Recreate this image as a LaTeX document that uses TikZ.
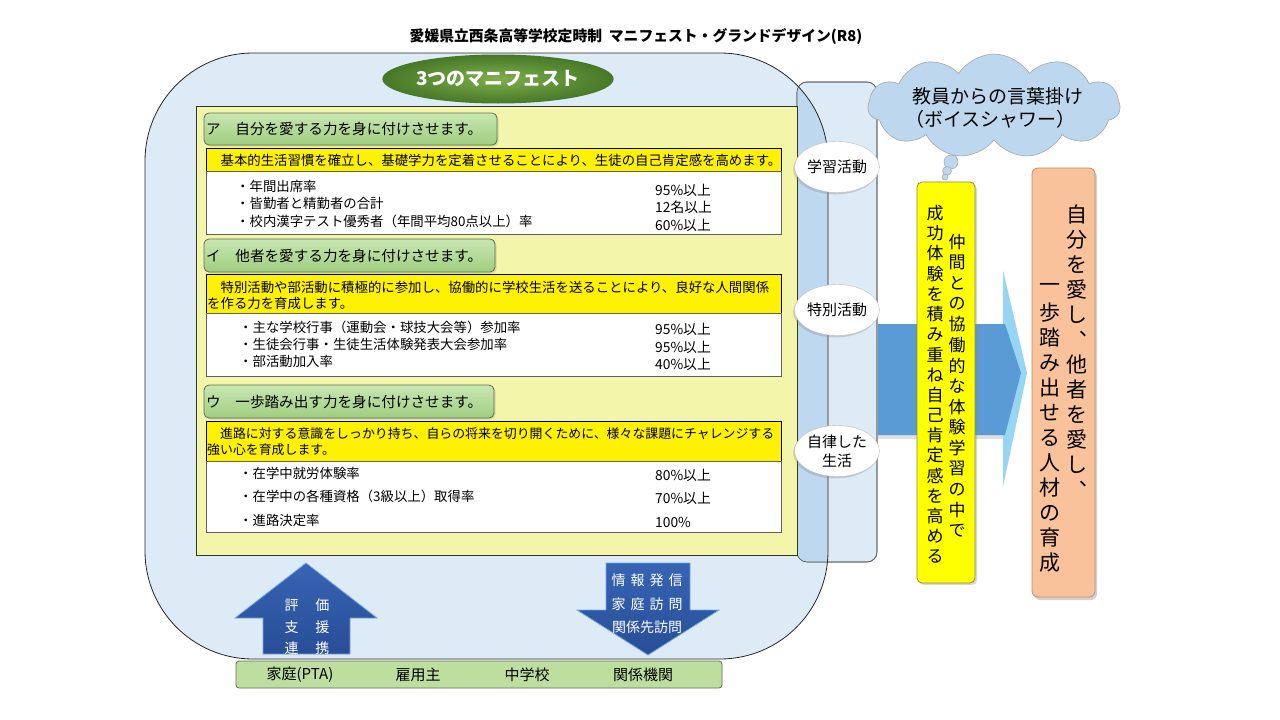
\documentclass[tikz,border=0pt]{standalone}
\usepackage{fontspec}
\setmainfont{Noto Sans CJK JP}
\usetikzlibrary{shapes.geometric,shapes.symbols,shadows}
\definecolor{bigblue}{RGB}{221,235,247}
\definecolor{overblue}{RGB}{190,216,240}
\definecolor{panelyellow}{RGB}{243,246,170}
\definecolor{hdrtop}{RGB}{200,230,178}
\definecolor{hdrbot}{RGB}{160,206,128}
\definecolor{hdrborder}{RGB}{95,110,85}
\definecolor{ovaltop}{RGB}{125,175,75}
\definecolor{ovalbot}{RGB}{70,120,40}
\definecolor{arrowblue}{RGB}{91,155,213}
\definecolor{arrowcyan}{RGB}{150,214,244}
\definecolor{darkarrow}{RGB}{40,78,150}
\definecolor{darkarrowtop}{RGB}{55,100,180}
\definecolor{arrowedge}{RGB}{120,165,225}
\definecolor{bargreen}{RGB}{190,222,160}
\definecolor{orangebox}{RGB}{249,194,154}
\definecolor{orangeedge}{RGB}{190,140,110}
\definecolor{cloudblue}{RGB}{189,215,238}
\definecolor{vyellow}{RGB}{255,255,0}
\begin{document}
\begin{tikzpicture}[x=1pt,y=-1pt,
  every node/.style={inner sep=0pt},
  hdr/.style={draw=hdrborder, line width=0.8pt, rounded corners=5pt, top color=hdrtop, bottom color=hdrbot,
     drop shadow={opacity=0.25, shadow xshift=1.5pt, shadow yshift=-1.5pt}},
  ybar/.style={draw=black, line width=0.8pt, fill=yellow},
  wbox/.style={draw=gray!75!black, line width=0.8pt, fill=white},
  hdrtxt/.style={anchor=west, font=\fontsize{14.6}{16}\selectfont},
  itm/.style={anchor=west, font=\fontsize{13.4}{15}\selectfont},
  val/.style={anchor=west, font=\fontsize{13.8}{15}\selectfont},
  lozenge/.style={ellipse, minimum width=77pt, minimum height=51pt, fill=white, draw=gray!50, line width=0.4pt,
     drop shadow={opacity=0.3, shadow xshift=-1.5pt, shadow yshift=-2pt}, align=center, font=\fontsize{15}{19}\selectfont},
  vt17/.style={font=\fontsize{17}{17}\selectfont},
  vt21/.style={font=\fontsize{21}{21}\selectfont},
  arrowtxt/.style={text=white, font=\fontsize{14}{16}\selectfont},
  bartxt/.style={font=\fontsize{15}{17}\selectfont}]
\useasboundingbox (0,0) rectangle (1280,720);
\fill[white] (0,0) rectangle (1280,720);

% title
\node[font=\fontsize{14.8}{16}\selectfont\bfseries] (title) at (636,37) {愛媛県立西条高等学校定時制\ \ マニフェスト・グランドデザイン(R8)};

% big rounded box
\fill[bigblue, rounded corners=108pt] (145,53) rectangle (828,659);

% tall box on the right
\draw[draw=black!65, fill=bigblue, line width=0.6pt, rounded corners=10pt] (797,82) rectangle (877,562);
\begin{scope}
  \clip[rounded corners=108pt] (145,53) rectangle (828,659);
  \fill[overblue, rounded corners=10pt] (797,82) rectangle (877,562);
\end{scope}
\draw[draw=black!65, line width=0.6pt, rounded corners=10pt] (797,82) rectangle (877,562);
\draw[black!85, line width=0.8pt, rounded corners=108pt] (145,53) rectangle (828,659);

% oval title
\node[ellipse, minimum width=224pt, minimum height=49pt, inner color=ovaltop, outer color=ovalbot,
  text=white, font=\fontsize{19}{21}\selectfont\bfseries] (oval) at (498,79) {3つのマニフェスト};

% yellow panel
\draw[draw=black!80, line width=0.8pt, fill=panelyellow] (196,106) rectangle (797,555);

% section A
\draw[hdr] (204,113) rectangle (497,145);
\node[hdrtxt] (ha) at (206,129) {ア　自分を愛する力を身に付けさせます。};
\draw[ybar] (206,148) rectangle (781,171);
\node[anchor=west, font=\fontsize{13.4}{15}\selectfont] (ba) at (207,160) {　基本的生活習慣を確立し、基礎学力を定着させることにより、生徒の自己肯定感を高めます。};
\draw[wbox] (206,171) rectangle (781,234);
\node[itm] (a1) at (236,186) {・年間出席率};
\node[itm] (a2) at (236,203) {・皆勤者と精勤者の合計};
\node[itm] (a3) at (236,221) {・校内漢字テスト優秀者（年間平均80点以上）率};
\node[val] (av1) at (655,190) {95\%以上};
\node[val] (av2) at (655,207) {12名以上};
\node[val] (av3) at (655,225) {60\%以上};

% section I
\draw[hdr] (204,239) rectangle (495,272);
\node[hdrtxt] (hi) at (206,255.5) {イ　他者を愛する力を身に付けさせます。};
\draw[ybar] (206,274) rectangle (781,313);
\node[anchor=west, font=\fontsize{13.4}{15}\selectfont] (bi1) at (207,287) {　特別活動や部活動に積極的に参加し、協働的に学校生活を送ることにより、良好な人間関係};
\node[anchor=west, font=\fontsize{13.4}{15}\selectfont] (bi2) at (207,303) {を作る力を育成します。};
\draw[wbox] (206,313) rectangle (781,376);
\node[itm] (i1) at (239,327) {・主な学校行事（運動会・球技大会等）参加率};
\node[itm] (i2) at (239,344) {・生徒会行事・生徒生活体験発表大会参加率};
\node[itm] (i3) at (239,361) {・部活動加入率};
\node[val] (iv1) at (655,329) {95\%以上};
\node[val] (iv2) at (655,347) {95\%以上};
\node[val] (iv3) at (655,364) {40\%以上};

% section U
\draw[hdr] (204,385) rectangle (494,418);
\node[hdrtxt] (hu) at (206,401.5) {ウ　一歩踏み出す力を身に付けさせます。};
\draw[ybar] (206,421) rectangle (781,461);
\node[anchor=west, font=\fontsize{12.9}{15}\selectfont] (bu1) at (207,434) {　進路に対する意識をしっかり持ち、自らの将来を切り開くために、様々な課題にチャレンジする};
\node[anchor=west, font=\fontsize{12.9}{15}\selectfont] (bu2) at (207,450) {強い心を育成します。};
\draw[wbox] (206,461) rectangle (781,532);
\node[itm] (u1) at (239,473) {・在学中就労体験率};
\node[itm] (u2) at (239,496) {・在学中の各種資格（3級以上）取得率};
\node[itm] (u3) at (239,520) {・進路決定率};
\node[val] (uv1) at (655,475) {80\%以上};
\node[val] (uv2) at (655,498) {70\%以上};
\node[val] (uv3) at (655,522) {100\%};

% lozenges in tall box
\node[lozenge] (l1) at (837,167) {学習活動};
\node[lozenge] (l2) at (837,310) {特別活動};
\node[lozenge] (l3) at (837,451) {自律した\\生活};

% big blue arrow
\fill[gray!25] (878,328) -- (1003,328) -- (1003,439) -- (878,439) -- cycle;
\fill[arrowcyan] (878,324) -- (1003,324) -- (1003,270) -- (1027,373) -- (1003,487) -- (1003,435) -- (878,435) -- cycle;
\fill[arrowblue] (878,324) -- (1005,324) -- (1021,373) -- (1005,435) -- (878,435) -- cycle;

% vertical yellow box
\draw[draw=olive!60!gray, line width=0.8pt, fill=vyellow, rounded corners=5pt,
  drop shadow={opacity=0.3, shadow xshift=2pt, shadow yshift=-2pt}] (917,182) rectangle (975,583);
\foreach \c [count=\i from 0] in {仲,間,と,の,協,働,的,な,体,験,学,習,の,中,で}
  \node[vt17] (vr\i) at (957,{242+20.6*\i}) {\c};
\foreach \c [count=\i from 0] in {成,功,体,験,を,積,み,重,ね,自,己,肯,定,感,を,高,め,る}
  \node[vt17] (vl\i) at (935,{213+20.2*\i}) {\c};

% orange box
\draw[draw=orangeedge, line width=0.8pt, fill=orangebox, rounded corners=6pt,
  drop shadow={opacity=0.35, shadow xshift=2pt, shadow yshift=-3pt}] (1032,168) rectangle (1095,597);
\foreach \c [count=\i from 0] in {自,分,を,愛,し,︑,他,者,を,愛,し,︑}
  \node[vt21] (or\i) at (1077,{215+25*\i}) {\c};
\foreach \c [count=\i from 0] in {一,歩,踏,み,出,せ,る,人,材,の,育,成}
  \node[vt21] (ol\i) at (1050,{288+25*\i}) {\c};

% cloud
\node[cloud, cloud puffs=11, cloud puff arc=115, aspect=2.5, minimum width=252pt, minimum height=104pt,
  draw=gray!70, line width=0.6pt, fill=cloudblue] (cloud) at (994,106) {};
\node[anchor=west, font=\fontsize{19}{21}\selectfont] (c1) at (912,96) {教員からの言葉掛け};
\node[anchor=west, font=\fontsize{19}{21}\selectfont] (c2) at (905,119) {（ボイスシャワー）};
\node[circle, minimum size=14pt, draw=gray!70, line width=0.5pt, fill=cloudblue] (tb1) at (951,162) {};
\node[circle, minimum size=9pt, draw=gray!70, line width=0.5pt, fill=cloudblue] (tb2) at (947,171) {};
\node[circle, minimum size=6pt, draw=gray!70, line width=0.5pt, fill=cloudblue] (tb3) at (945,177) {};

% bottom arrows
\draw[draw=arrowedge, line width=0.8pt, top color=darkarrowtop, bottom color=darkarrow]
  (263,654) -- (263,618) -- (235,618) -- (306,563) -- (377,618) -- (350,618) -- (350,654) -- cycle;
\node[arrowtxt] (up1) at (307,605) {評\hspace{17pt}価};
\node[arrowtxt] (up2) at (307,627) {支\hspace{17pt}援};
\node[arrowtxt] (up3) at (307,648) {連\hspace{17pt}携};
\draw[draw=arrowedge, line width=0.8pt, top color=darkarrowtop, bottom color=darkarrow]
  (606,563) -- (690,563) -- (690,610) -- (719,610) -- (648,655) -- (577,610) -- (606,610) -- cycle;
\node[arrowtxt] (dn1) at (647,580) {情\hspace{5pt}報\hspace{5pt}発\hspace{5pt}信};
\node[arrowtxt] (dn2) at (647,604) {家\hspace{5pt}庭\hspace{5pt}訪\hspace{5pt}問};
\node[arrowtxt] (dn3) at (647,627) {関係先訪問};

% bottom bar
\draw[draw=hdrborder, line width=0.8pt, fill=bargreen, rounded corners=3pt] (236,661) rectangle (722,688);
\node[bartxt] (g1) at (300,674.5) {家庭(PTA)};
\node[bartxt] (g2) at (418,674.5) {雇用主};
\node[bartxt] (g3) at (527,674.5) {中学校};
\node[bartxt] (g4) at (643,674.5) {関係機関};
\end{tikzpicture}
\end{document}
